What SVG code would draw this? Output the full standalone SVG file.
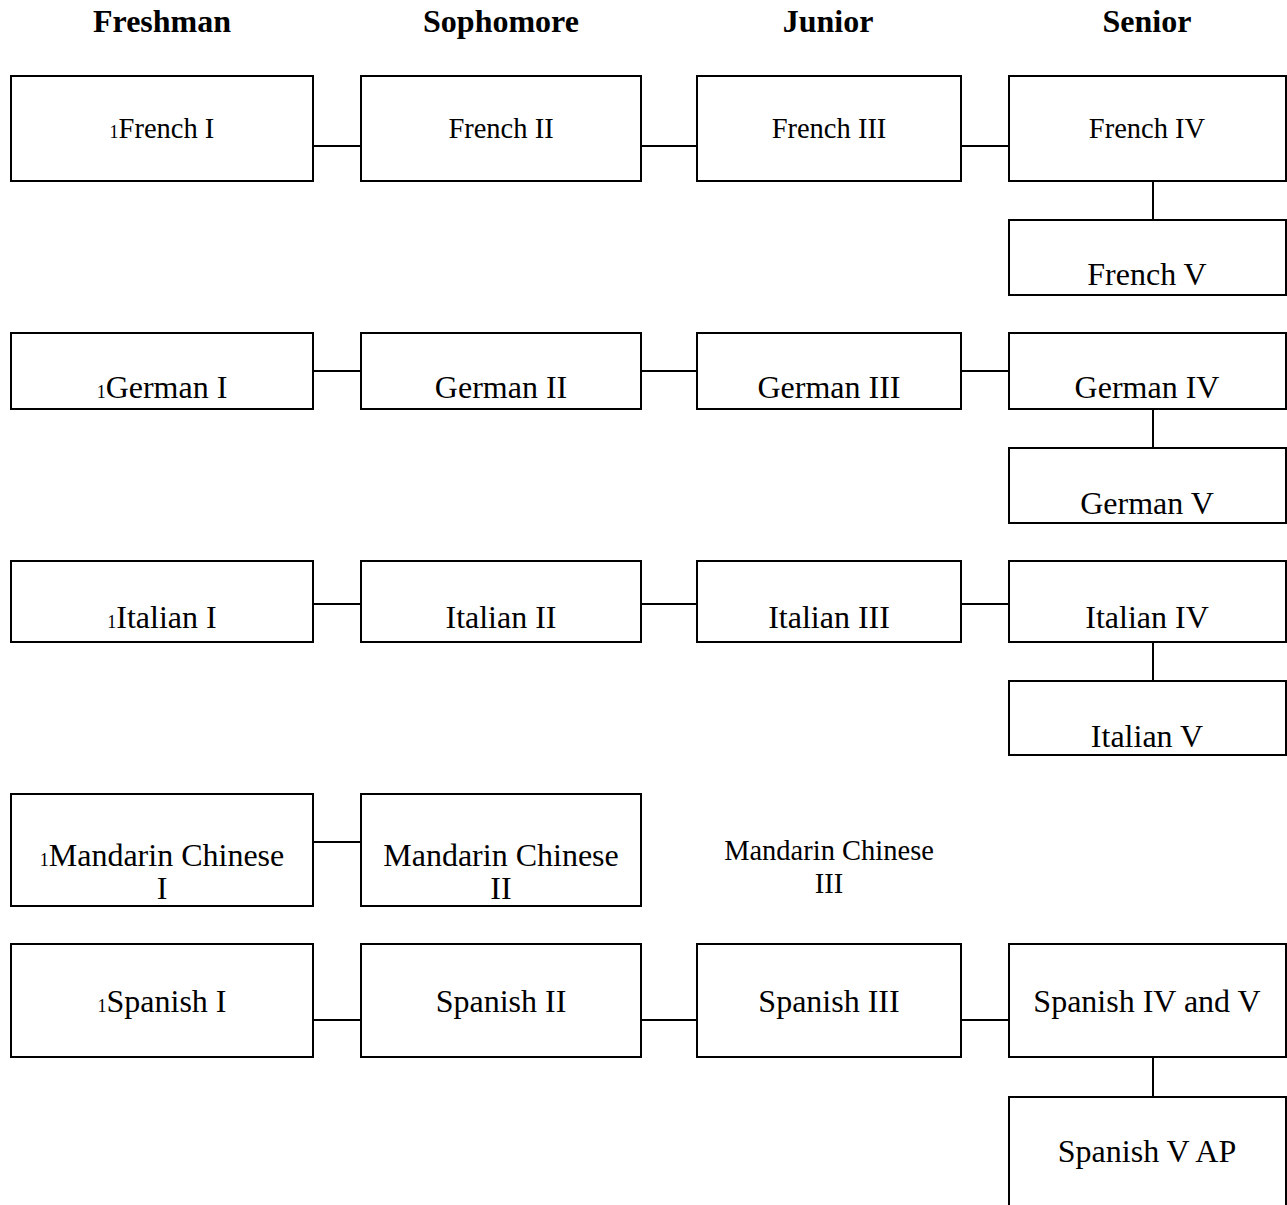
<svg xmlns="http://www.w3.org/2000/svg" width="1287" height="1205" viewBox="0 0 1287 1205">
<style>
.box{fill:#fff;stroke:#000;stroke-width:2}
.ln{stroke:#000;stroke-width:2;fill:none}
text{font-family:"Liberation Serif","Times New Roman",serif;fill:#000;text-anchor:middle}
.h{font-size:32px;font-weight:bold}
.t{font-size:32px}
.s{font-size:28.5px}
.n{font-size:18px}
</style>
<rect width="1287" height="1205" fill="#fff"/>
<g id="headers">
<text class="h" x="162" y="32">Freshman</text>
<text class="h" x="501" y="32">Sophomore</text>
<text class="h" x="828" y="32">Junior</text>
<text class="h" x="1147" y="32">Senior</text>
</g>
<g id="connectors">
<line class="ln" x1="313" y1="146" x2="361" y2="146"/>
<line class="ln" x1="641" y1="146" x2="697" y2="146"/>
<line class="ln" x1="961" y1="146" x2="1009" y2="146"/>
<line class="ln" x1="1153" y1="181" x2="1153" y2="220"/>
<line class="ln" x1="313" y1="371" x2="361" y2="371"/>
<line class="ln" x1="641" y1="371" x2="697" y2="371"/>
<line class="ln" x1="961" y1="371" x2="1009" y2="371"/>
<line class="ln" x1="1153" y1="409" x2="1153" y2="448"/>
<line class="ln" x1="313" y1="604" x2="361" y2="604"/>
<line class="ln" x1="641" y1="604" x2="697" y2="604"/>
<line class="ln" x1="961" y1="604" x2="1009" y2="604"/>
<line class="ln" x1="1153" y1="642" x2="1153" y2="681"/>
<line class="ln" x1="313" y1="842" x2="361" y2="842"/>
<line class="ln" x1="313" y1="1020" x2="361" y2="1020"/>
<line class="ln" x1="641" y1="1020" x2="697" y2="1020"/>
<line class="ln" x1="961" y1="1020" x2="1009" y2="1020"/>
<line class="ln" x1="1153" y1="1057" x2="1153" y2="1097"/>
</g>
<g id="french1"><rect class="box" x="11" y="76" width="302" height="105"/><text class="s" x="162" y="138"><tspan class="n">1</tspan>French I</text></g>
<g id="french2"><rect class="box" x="361" y="76" width="280" height="105"/><text class="s" x="501" y="138">French II</text></g>
<g id="french3"><rect class="box" x="697" y="76" width="264" height="105"/><text class="s" x="829" y="138">French III</text></g>
<g id="french4"><rect class="box" x="1009" y="76" width="277" height="105"/><text class="s" x="1147" y="138">French IV</text></g>
<g id="french5"><rect class="box" x="1009" y="220" width="277" height="75"/><text class="t" x="1147" y="285">French V</text></g>
<g id="german1"><rect class="box" x="11" y="333" width="302" height="76"/><text class="t" x="162" y="398"><tspan class="n">1</tspan>German I</text></g>
<g id="german2"><rect class="box" x="361" y="333" width="280" height="76"/><text class="t" x="501" y="398">German II</text></g>
<g id="german3"><rect class="box" x="697" y="333" width="264" height="76"/><text class="t" x="829" y="398">German III</text></g>
<g id="german4"><rect class="box" x="1009" y="333" width="277" height="76"/><text class="t" x="1147" y="398">German IV</text></g>
<g id="german5"><rect class="box" x="1009" y="448" width="277" height="75"/><text class="t" x="1147" y="514">German V</text></g>
<g id="italian1"><rect class="box" x="11" y="561" width="302" height="81"/><text class="t" x="162" y="628"><tspan class="n">1</tspan>Italian I</text></g>
<g id="italian2"><rect class="box" x="361" y="561" width="280" height="81"/><text class="t" x="501" y="628">Italian II</text></g>
<g id="italian3"><rect class="box" x="697" y="561" width="264" height="81"/><text class="t" x="829" y="628">Italian III</text></g>
<g id="italian4"><rect class="box" x="1009" y="561" width="277" height="81"/><text class="t" x="1147" y="628">Italian IV</text></g>
<g id="italian5"><rect class="box" x="1009" y="681" width="277" height="74"/><text class="t" x="1147" y="747">Italian V</text></g>
<g id="mandarin1"><rect class="box" x="11" y="794" width="302" height="112"/><text class="t" x="162" y="866"><tspan class="n">1</tspan>Mandarin Chinese</text><text class="t" x="162" y="899">I</text></g>
<g id="mandarin2"><rect class="box" x="361" y="794" width="280" height="112"/><text class="t" x="501" y="866">Mandarin Chinese</text><text class="t" x="501" y="899">II</text></g>
<g id="mandarin3"><text class="s" x="829" y="860">Mandarin Chinese</text><text class="s" x="829" y="893">III</text></g>
<g id="spanish1"><rect class="box" x="11" y="944" width="302" height="113"/><text class="t" x="162" y="1012"><tspan class="n">1</tspan>Spanish I</text></g>
<g id="spanish2"><rect class="box" x="361" y="944" width="280" height="113"/><text class="t" x="501" y="1012">Spanish II</text></g>
<g id="spanish3"><rect class="box" x="697" y="944" width="264" height="113"/><text class="t" x="829" y="1012">Spanish III</text></g>
<g id="spanish4"><rect class="box" x="1009" y="944" width="277" height="113"/><text class="t" x="1147" y="1012">Spanish IV and V</text></g>
<g id="spanish5"><rect class="box" x="1009" y="1097" width="277" height="130"/><text class="t" x="1147" y="1162">Spanish V AP</text></g>
</svg>
